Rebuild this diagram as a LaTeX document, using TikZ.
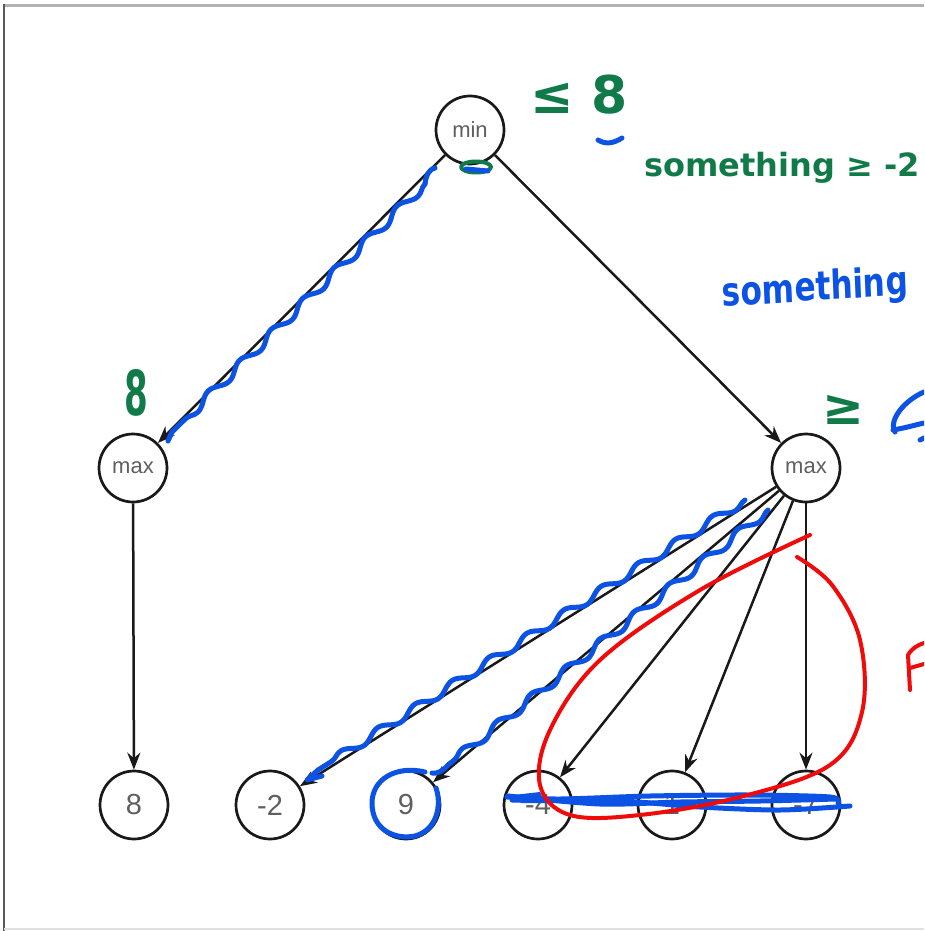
\documentclass[tikz,border=0pt]{standalone}
\usepackage{fontspec}
\setmainfont{Liberation Sans}
\newfontfamily\hand{DejaVu Sans}
\usetikzlibrary{arrows.meta,decorations.pathmorphing}
\definecolor{inkgreen}{RGB}{16,122,72}
\definecolor{inkblue}{RGB}{12,82,228}
\definecolor{inkred}{RGB}{240,10,10}
\definecolor{labelgray}{RGB}{95,95,95}
\begin{document}
\begin{tikzpicture}[x=1pt,y=-1pt,
  treenode/.style={circle,draw=black!90,line width=2.7pt,minimum size=68pt,inner sep=0pt,text=labelgray},
  opnode/.style={treenode,font=\fontsize{22}{22}\selectfont},
  leafnode/.style={treenode,font=\fontsize{29}{29}\selectfont},
  edge/.style={draw=black!90,line width=2.5pt,-{Stealth[length=17pt,width=13pt]}},
  ink/.style={line width=5pt,line cap=round,line join=round},
  wavy/.style={ink,decorate,decoration={snake,amplitude=4pt,segment length=44pt}},
  handtext/.style={inner sep=0pt,font=\hand\bfseries}
]
\useasboundingbox (0,0) rectangle (924,931);
\clip (0,0) rectangle (924,931);
\fill[white] (0,0) rectangle (924,931);
% frame
\draw[line width=3pt,draw=black!30] (4,5.5) -- (924,5.5);
\draw[line width=2.5pt,draw=black!65] (4,4) -- (4,931);
\draw[line width=2pt,draw=black!12] (4,928.5) -- (924,928.5);

% tree
\node[opnode] (root) at (470,130) {min};
\node[opnode] (maxL) at (133,468) {max};
\node[opnode] (maxR) at (806,468) {max};
\node[leafnode] (l1) at (134,805) {8};
\node[leafnode] (l2) at (270,805) {-2};
\node[leafnode] (l3) at (406,805) {9};
\node[leafnode] (l4) at (538,805) {-4};
\node[leafnode] (l5) at (672,805) {1};
\node[leafnode] (l6) at (806,805) {-7};

\draw[edge] (root) -- (maxL);
\draw[edge] (root) -- (maxR);
\draw[edge] (maxL) -- (l1);
\draw[edge] (maxR) -- (l2);
\draw[edge] (maxR) -- (l3);
\draw[edge] (maxR) -- (l4);
\draw[edge] (maxR) -- (l5);
\draw[edge] (maxR) -- (l6);

% green annotations
\node[handtext,text=inkgreen,font=\hand\bfseries\fontsize{52}{52}\selectfont] (le8) at (579,95) {≤ 8};
\node[handtext,text=inkgreen,font=\hand\bfseries\fontsize{32}{32}\selectfont,anchor=west] (sgeq) at (644,168) {something ≥ -2};
\node[handtext,text=inkgreen,font=\hand\bfseries\fontsize{62}{62}\selectfont,xscale=0.55] (eight) at (136,393) {8};
\node[handtext,text=inkgreen,font=\hand\bfseries\fontsize{50}{50}\selectfont] (geq) at (843,410) {≥};
\draw[ink,inkgreen,line width=4pt] (476,167) ellipse (15 and 5.5);

% blue annotations
\node[handtext,text=inkblue,font=\hand\bfseries\fontsize{40}{40}\selectfont,xscale=0.78,rotate=3,anchor=west] (sblue) at (722,296) {something};
\draw[ink,inkblue] (598,140) .. controls (606,145) and (614,143) .. (622,138);
\draw[ink,inkblue] (466,169) -- (488,171);
\draw[ink,inkblue] (895,432) .. controls (888,420) and (905,400) .. (924,392);
\draw[ink,inkblue] (893,430) .. controls (905,428) and (915,425) .. (924,423);
\draw[ink,inkblue] (920,440) -- (924,438);
% wavy traces over edges
\draw[ink,inkblue] (435,168) .. controls (428,170) and (426,176) .. (425,184);
\draw[wavy,inkblue] (425,184) -- (172,432);
\draw[ink,inkblue] (172,432) -- (168,441);
\draw[wavy,inkblue] (745,500) -- (318,770);
\draw[ink,inkblue] (318,770) -- (307,780) -- (322,776);
\draw[wavy,inkblue] (768,510) -- (448,765);
\draw[ink,inkblue] (448,765) .. controls (442,772) and (436,774) .. (432,773);
% circle around 9
\draw[ink,inkblue] (425,772) .. controls (395,765) and (372,780) .. (372,803)
  .. controls (372,830) and (395,840) .. (415,836)
  .. controls (437,830) and (442,805) .. (436,788);
% horizontal scribble over leaves
\draw[ink,inkblue] plot[smooth] coordinates {(507,797) (560,799) (650,796) (750,795) (830,797) (838,803)};
\draw[ink,inkblue] plot[smooth] coordinates {(512,800) (620,801) (700,807) (780,810) (850,806)};
\draw[ink,inkblue] plot[smooth] coordinates {(508,796) (600,804) (680,802) (760,801) (836,799)};
\fill[inkblue] (505,796) -- (540,792) -- (545,803) -- (522,803) -- cycle;

% red loop
\draw[ink,inkred,line width=4pt] plot[smooth,tension=0.6] coordinates {(810,535) (700,590) (600,660) (550,730) (540,785) (570,815) (640,815) (740,797) (830,765) (862,712) (860,640) (832,585) (797,557)};
\draw[ink,inkred,line width=4pt] (910,690) -- (908,655) .. controls (912,648) and (918,645) .. (924,643);
\draw[ink,inkred,line width=4pt] (910,668) -- (924,664);
\end{tikzpicture}
\end{document}
